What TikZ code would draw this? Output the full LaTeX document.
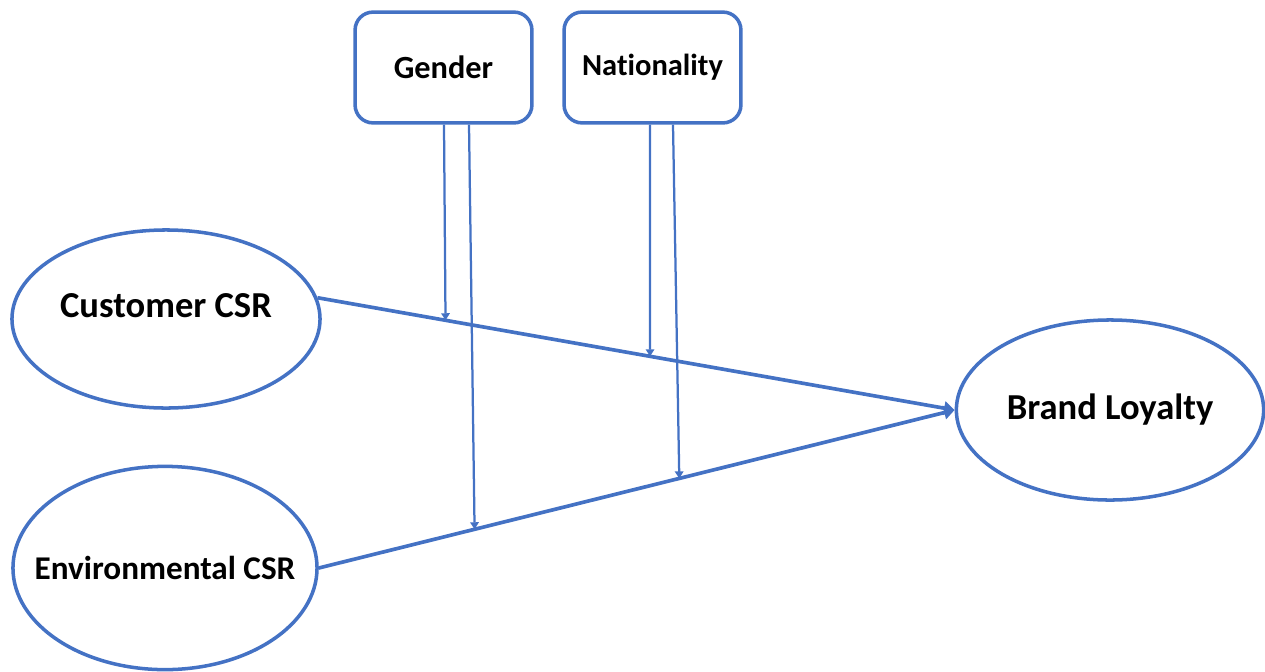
\documentclass[tikz,border=0pt]{standalone}
\usepackage{fontspec}
\setmainfont{Carlito}[Ligatures=NoCommon]
\usepackage{tikz}
\usepackage{xcolor}
\usetikzlibrary{shapes}
\usetikzlibrary{calc}
\usetikzlibrary{positioning, arrows.meta}
\definecolor{csrblue}{HTML}{4472C4}

\begin{document}
\begin{tikzpicture}[x=0.025cm, y=-0.025cm,
        construct/.style={ellipse, draw=csrblue, line width=2.5pt, inner sep=0pt},
        moderator/.style={rectangle, rounded corners=0.45cm, draw=csrblue, line width=2.5pt, minimum width=4.42cm, minimum height=2.77cm},
        path/.style={draw=csrblue, line width=2.6pt, -{Triangle[length=7.5pt, width=9.5pt]}},
        modpath/.style={draw=csrblue, line width=1.6pt, -{Triangle[length=5pt, width=6pt]}}]
                \useasboundingbox (0,0) rectangle (1265,672);
                \node [construct, minimum width=7.7cm, minimum height=4.45cm, text depth=0.65cm, font=\fontsize{26}{30}\selectfont\bfseries] (cust) at (166,319) {\makebox[0pt]{Customer CSR}};
                \node [construct, minimum width=7.6cm, minimum height=5.08cm, font=\fontsize{23.6}{28}\selectfont\bfseries] (env) at (165,568) {\makebox[0pt]{Environmental CSR}};
                \node [construct, minimum width=7.68cm, minimum height=4.5cm, font=\fontsize{26}{30}\selectfont\bfseries] (brand) at (1110,410) {\makebox[0pt]{Brand Loyalty}};
                \node [moderator, font=\fontsize{23}{27}\selectfont\bfseries] (gender) at (443.5,67.5) {Gender};
                \node [moderator, font=\fontsize{21.7}{25}\selectfont\bfseries] (nation) at (652.5,67.5) {Nationality};

                % direct effects
                \draw [path] (cust.8) -- (brand.west);
                \draw [path] (env.east) -- (brand.west);

                % points where the moderators meet the paths
                \coordinate (gc) at ($(cust.8)!0.201!(brand.west)$);
                \coordinate (nc) at ($(cust.8)!0.522!(brand.west)$);
                \coordinate (ge) at ($(env.east)!0.245!(brand.west)$);
                \coordinate (ne) at ($(env.east)!0.567!(brand.west)$);

                \draw [modpath] ($(gender.south)+(0.5,0)$) -- (gc);
                \draw [modpath] ($(gender.south)+(25.5,0)$) -- (ge);
                \draw [modpath] ($(nation.south)+(-2.5,0)$) -- (nc);
                \draw [modpath] ($(nation.south)+(20.5,0)$) -- (ne);
\end{tikzpicture}
\end{document}
